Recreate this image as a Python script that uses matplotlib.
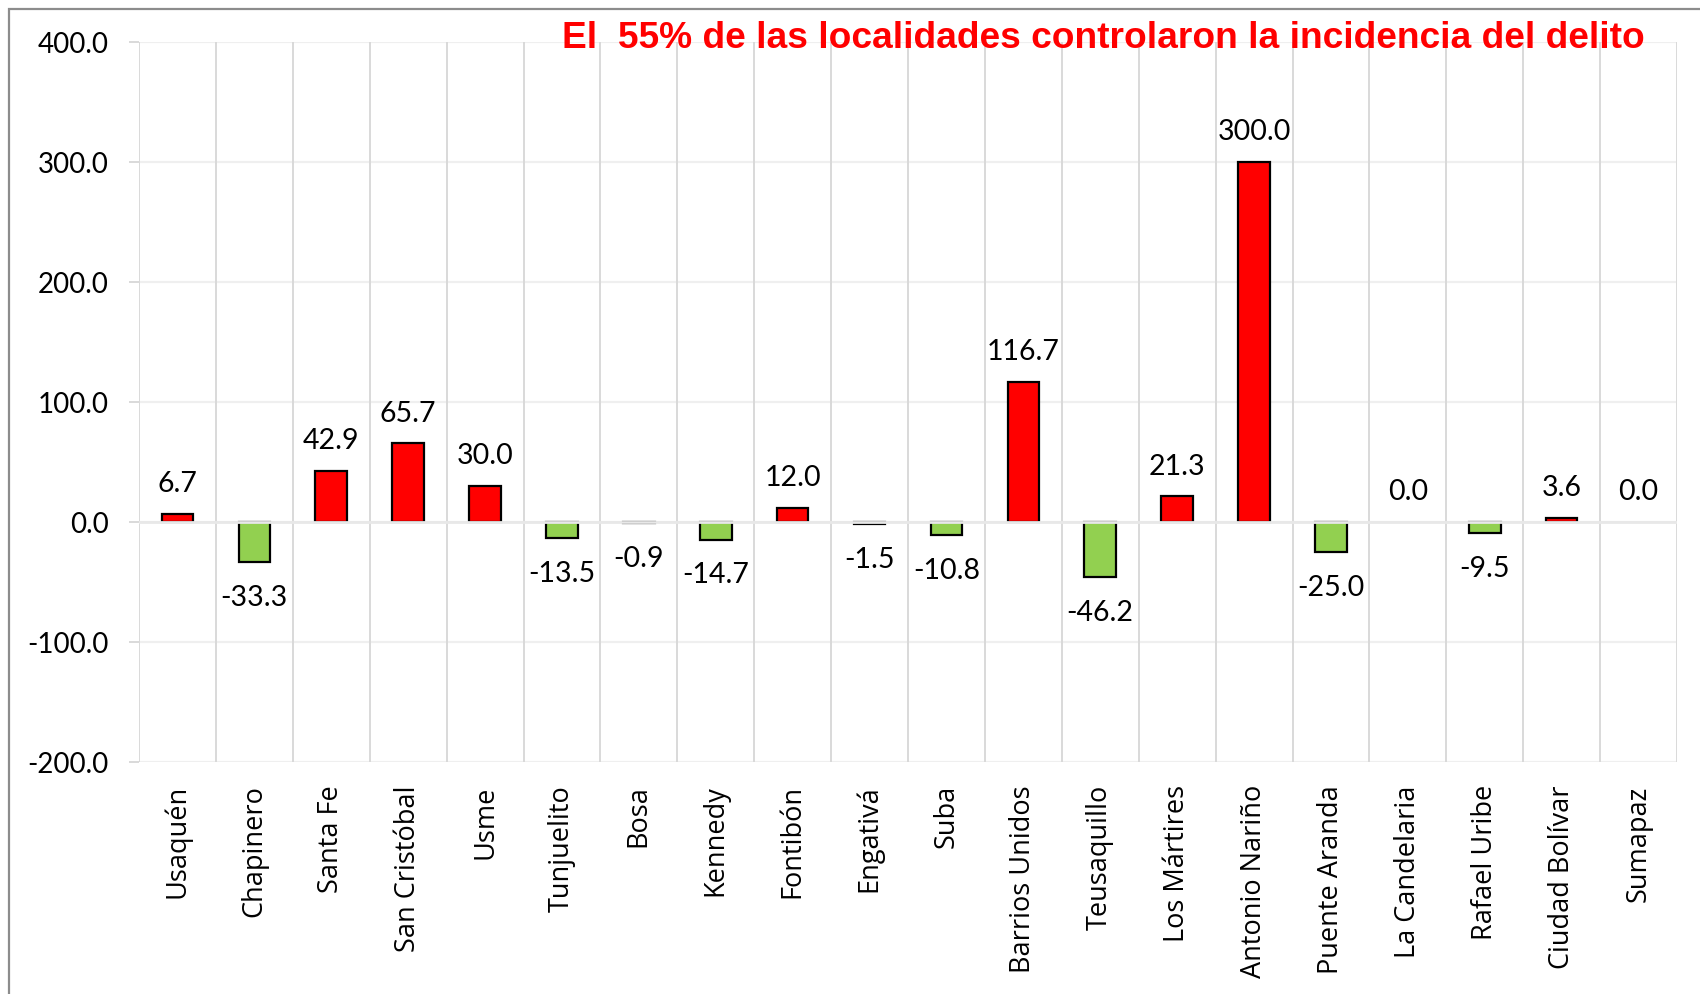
import matplotlib
matplotlib.use("Agg")
import matplotlib.pyplot as plt
from matplotlib import font_manager
from matplotlib.patches import Rectangle

categories = ["Usaquén", "Chapinero", "Santa Fe", "San Cristóbal", "Usme", "Tunjuelito",
              "Bosa", "Kennedy", "Fontibón", "Engativá", "Suba", "Barrios Unidos",
              "Teusaquillo", "Los Mártires", "Antonio Nariño", "Puente Aranda",
              "La Candelaria", "Rafael Uribe", "Ciudad Bolívar", "Sumapaz"]
values = [6.7, -33.3, 42.9, 65.7, 30.0, -13.5, -0.9, -14.7, 12.0, -1.5,
          -10.8, 116.7, -46.2, 21.3, 300.0, -25.0, 0.0, -9.5, 3.6, 0.0]
yticks = [-200, -100, 0, 100, 200, 300, 400]
title = "El  55% de las localidades controlaron la incidencia del delito"

available = {f.name for f in font_manager.fontManager.ttflist}
title_font = "Liberation Sans Narrow" if "Liberation Sans Narrow" in available else "Liberation Sans"

W, H = 1700, 995
fig = plt.figure(figsize=(W / 100, H / 100), dpi=100)
fig.patch.set_facecolor("white")

# outer border (chart area, cropped at right/bottom)
fig.patches.append(Rectangle((9 / W, -0.05), 1.2, 1 - 10 / H + 0.05, transform=fig.transFigure,
                             fill=False, edgecolor="#8c8c8c", linewidth=1.6, zorder=0))

ax = fig.add_axes([139 / W, (H - 763) / H, (1677 - 139) / W, (763 - 43) / H])
n = len(categories)
x = list(range(n))
colors = ["#FF0000" if v >= 0 else "#92D050" for v in values]
lws = [1.6 if v != 0 else 0 for v in values]
ax.bar(x, values, width=0.41, color=colors, edgecolor="black", linewidth=lws, zorder=2)

ax.set_xlim(-0.5, n - 0.5)
ax.set_ylim(-200, 400)
ax.set_yticks(yticks)
ax.set_yticklabels([f"{v:.1f}" for v in yticks], fontfamily="Lato", fontsize=20)
ax.tick_params(axis="y", length=7, width=1.4, color="#d9d9d9", pad=15)
ax.set_xticks(x)
ax.set_xticklabels(categories, rotation=90, fontfamily="Open Sans", fontsize=19.5)
ax.tick_params(axis="x", length=0, pad=16)

for s in ax.spines.values():
    s.set_visible(False)

for yv in yticks:
    ax.axhline(yv, color="#efefef", linewidth=1.6, zorder=0)
for b in range(n + 1):
    ax.axvline(b - 0.5, color="#d9d9d9", linewidth=1.4, zorder=1)
ax.axhline(0, color="#e8e8e8", linewidth=2.0, zorder=3)

for xi, v in zip(x, values):
    off = 22 if v >= 0 else -25
    ax.annotate(f"{v:.1f}", (xi, v), xytext=(0, off), textcoords="offset points",
                ha="center", va="center", fontfamily="Lato", fontsize=20.5, zorder=4)

t = fig.text(1645 / W, 1 - 38 / H, title, ha="right", va="center", color="#FF0000",
             fontweight="bold", fontfamily=title_font, fontsize=27)
fig.canvas.draw()
bb = t.get_window_extent()
target = 1645 - 563
t.set_fontsize(27 * target / bb.width)

fig.savefig("out.png", dpi=100)
